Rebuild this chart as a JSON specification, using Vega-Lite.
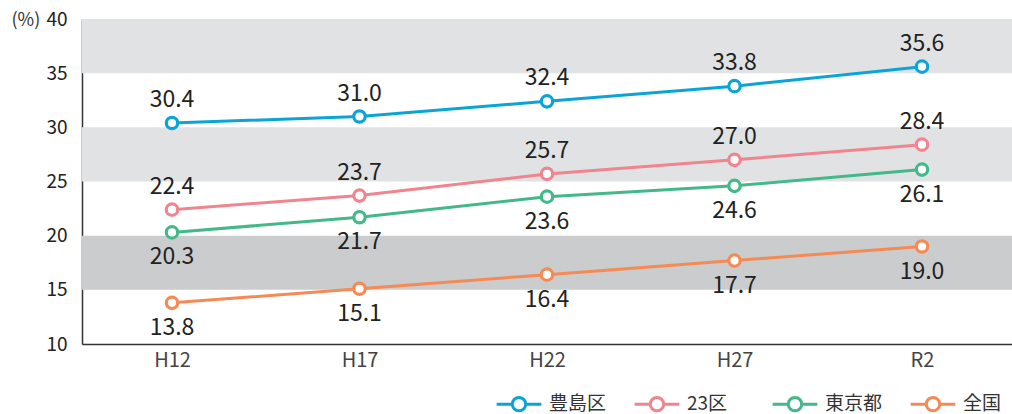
{
  "$schema": "https://vega.github.io/schema/vega-lite/v6.json",
  "width": 930,
  "height": 325,
  "autosize": "none",
  "padding": {"left": 82, "top": 19, "right": 0, "bottom": 70},
  "background": "white",
  "config": {"view": {"stroke": null}, "font": "Noto Sans CJK JP"},
  "datasets": {
    "bands": [
      {"lo": 35, "hi": 40, "tone": "light"},
      {"lo": 25, "hi": 30, "tone": "light"},
      {"lo": 15, "hi": 20, "tone": "dark"}
    ],
    "series": [
      {"year": "H12", "region": "豊島区", "value": 30.4},
      {"year": "H17", "region": "豊島区", "value": 31.0},
      {"year": "H22", "region": "豊島区", "value": 32.4},
      {"year": "H27", "region": "豊島区", "value": 33.8},
      {"year": "R2", "region": "豊島区", "value": 35.6},
      {"year": "H12", "region": "23区", "value": 22.4},
      {"year": "H17", "region": "23区", "value": 23.7},
      {"year": "H22", "region": "23区", "value": 25.7},
      {"year": "H27", "region": "23区", "value": 27.0},
      {"year": "R2", "region": "23区", "value": 28.4},
      {"year": "H12", "region": "東京都", "value": 20.3},
      {"year": "H17", "region": "東京都", "value": 21.7},
      {"year": "H22", "region": "東京都", "value": 23.6},
      {"year": "H27", "region": "東京都", "value": 24.6},
      {"year": "R2", "region": "東京都", "value": 26.1},
      {"year": "H12", "region": "全国", "value": 13.8},
      {"year": "H17", "region": "全国", "value": 15.1},
      {"year": "H22", "region": "全国", "value": 16.4},
      {"year": "H27", "region": "全国", "value": 17.7},
      {"year": "R2", "region": "全国", "value": 19.0}
    ]
  },
  "layer": [
    {
      "data": {"name": "bands"},
      "mark": {"type": "rect"},
      "encoding": {
        "y": {
          "field": "lo", "type": "quantitative",
          "scale": {"domain": [10, 40], "nice": false, "zero": false},
          "axis": {
            "values": [10, 15, 20, 25, 30, 35, 40],
            "title": "(%)",
            "titleAngle": 0,
            "titleX": -71,
            "titleY": 1,
            "titleAlign": "left",
            "titleBaseline": "middle",
            "titleFontSize": 18,
            "titleFontWeight": "normal",
            "titleColor": "#333",
            "labelFontSize": 19,
            "labelColor": "#222",
            "labelPadding": 15,
            "ticks": false,
            "domainColor": "#333",
            "domainWidth": 1.5,
            "grid": false
          }
        },
        "y2": {"field": "hi"},
        "fill": {
          "field": "tone", "type": "nominal",
          "scale": {"domain": ["light", "dark"], "range": ["#e1e2e3", "#cbcccd"]},
          "legend": null
        }
      }
    },
    {
      "data": {"name": "series"},
      "mark": {
        "type": "line",
        "strokeWidth": 3,
        "point": {"filled": false, "fill": "white", "size": 130, "strokeWidth": 3.2}
      },
      "encoding": {
        "x": {
          "field": "year", "type": "nominal",
          "scale": {"type": "point", "padding": 0.48, "domain": ["H12", "H17", "H22", "H27", "R2"]},
          "axis": {
            "title": null,
            "labelAngle": 0,
            "labelFontSize": 20,
            "labelColor": "#444",
            "labelPadding": 6,
            "ticks": false,
            "domainColor": "#333",
            "domainWidth": 1.5,
            "grid": false
          }
        },
        "y": {"field": "value", "type": "quantitative"},
        "color": {
          "field": "region", "type": "nominal",
          "scale": {"domain": ["豊島区", "23区", "東京都", "全国"], "range": ["#0aa5d6", "#f0848f", "#43b98a", "#f58a55"]},
          "legend": {
            "orient": "none",
            "legendX": 413,
            "legendY": 361,
            "direction": "horizontal",
            "title": null,
            "gridAlign": "all",
            "symbolType": "M-1,0L-0.3,0M0.3,0L1,0M0.3,0A0.3,0.3 0 1 1 -0.3,0A0.3,0.3 0 1 1 0.3,0Z",
            "symbolSize": 2000,
            "symbolStrokeWidth": 3,
            "symbolFillColor": "white",
            "labelFontSize": 19,
            "labelColor": "#333",
            "labelOffset": 6,
            "columnPadding": 21
          }
        }
      }
    },
    {
      "data": {"name": "series"},
      "transform": [{"filter": "datum.region === '豊島区' || datum.region === '23区'"}],
      "mark": {"type": "text", "fontSize": 23, "dy": -23, "color": "#222"},
      "encoding": {
        "x": {"field": "year", "type": "nominal"},
        "y": {"field": "value", "type": "quantitative"},
        "text": {"field": "value", "type": "quantitative", "format": ".1f"}
      }
    },
    {
      "data": {"name": "series"},
      "transform": [{"filter": "datum.region === '東京都' || datum.region === '全国'"}],
      "mark": {"type": "text", "fontSize": 23, "dy": 25, "color": "#222"},
      "encoding": {
        "x": {"field": "year", "type": "nominal"},
        "y": {"field": "value", "type": "quantitative"},
        "text": {"field": "value", "type": "quantitative", "format": ".1f"}
      }
    }
  ]
}
